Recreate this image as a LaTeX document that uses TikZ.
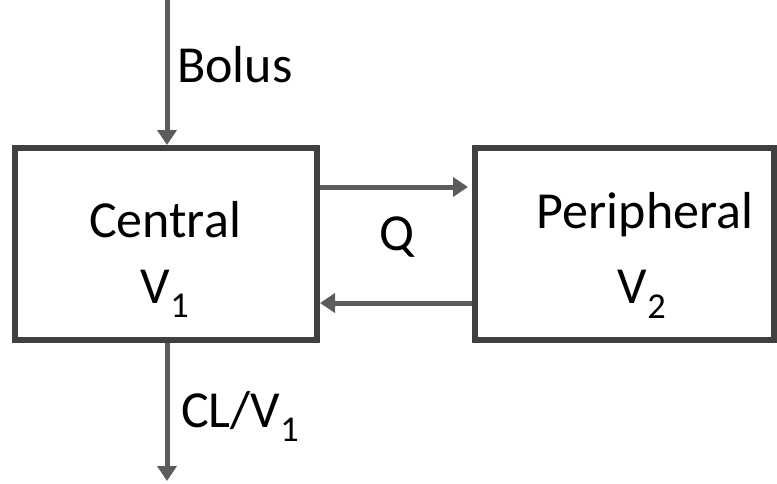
\documentclass[tikz,border=0pt]{standalone}
\usepackage{fontspec}
\setmainfont{Carlito}
\usetikzlibrary{arrows.meta}
\definecolor{boxgray}{RGB}{64,64,64}
\definecolor{arrowgray}{RGB}{92,92,92}
\tikzset{
  compbox/.style={draw=boxgray, line width=6pt, fill=white, inner sep=0pt},
  flow/.style={draw=arrowgray, line width=5pt, -{Triangle[length=15pt,width=19pt]}},
  lbl/.style={font=\fontsize{52}{62}\selectfont, inner sep=0pt, anchor=base},
}
\begin{document}
\begin{tikzpicture}[x=1pt,y=-1pt]
\useasboundingbox (0,0) rectangle (777,483);
\node[compbox, minimum width=302pt, minimum height=192pt] (central) at (166,244) {};
\node[compbox, minimum width=299pt, minimum height=192pt] (peripheral) at (624.5,244) {};
\node[lbl] (ctext) at (165,237) {Central};
\node[lbl] (cv) at (165,303) {V\textsubscript{1}};
\node[lbl] (ptext) at (645,228) {Peripheral};
\node[lbl] (pv) at (642,303) {V\textsubscript{2}};
\node[lbl] (q) at (397,250) {Q};
\node[lbl, anchor=base west] (bolus) at (177,82) {Bolus};
\node[lbl, anchor=base west] (cl) at (181,427) {CL/V\textsubscript{1}};
\coordinate (btop) at (167,0);
\coordinate (bbot) at (167,481);
\coordinate (q1) at (0,187);
\coordinate (q2) at (0,303);
\draw[flow] (btop) -- (central.north -| btop);
\draw[flow] (central.south -| bbot) -- (bbot);
\draw[flow] (central.east |- q1) -- ([xshift=-4pt]peripheral.west |- q1);
\draw[flow] (peripheral.west |- q2) -- (central.east |- q2);
\end{tikzpicture}
\end{document}
